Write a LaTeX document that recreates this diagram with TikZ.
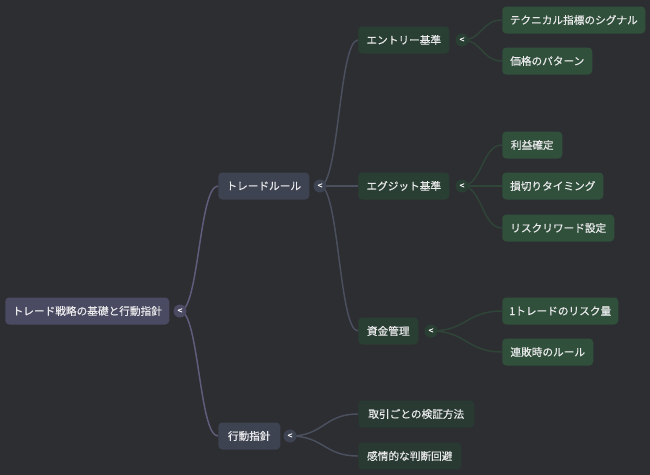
\documentclass[tikz,border=0pt]{standalone}
\usepackage{fontspec}
\setmainfont{Noto Sans CJK JP}[FakeBold=0.35]
\usetikzlibrary{calc}
\pgfdeclarelayer{bg}
\pgfsetlayers{bg,main}
\definecolor{bgc}{HTML}{2D2E32}
\definecolor{rootc}{HTML}{4A4A62}
\definecolor{lvonec}{HTML}{3E4351}
\definecolor{lvtwoc}{HTML}{2A3F33}
\definecolor{leafc}{HTML}{31503C}
\definecolor{aleafc}{HTML}{283A31}
\definecolor{txtc}{HTML}{EAEAEC}
\definecolor{erootc}{HTML}{5E5E7C}
\definecolor{egrayc}{HTML}{4B505F}
\definecolor{egreenc}{HTML}{2F4538}
\tikzset{
  box/.style={rectangle, rounded corners=3pt, inner sep=0pt, minimum height=27*0.75pt,
    anchor=west, text=txtc, font=\fontsize{8pt}{9pt}\selectfont},
  bw/.style={minimum width=#1*0.75pt},
  rootbox/.style={box, fill=rootc},
  onebox/.style={box, fill=lvonec},
  twobox/.style={box, fill=lvtwoc},
  leafbox/.style={box, fill=leafc},
  aleafbox/.style={box, fill=aleafc},
  tog/.style={circle, inner sep=0pt, minimum size=13*0.75pt, fill=#1, text=white,
    font=\fontsize{6.5pt}{6.5pt}\selectfont},
  curve/.style={to path={let \p1=(\tikztostart), \p2=(\tikztotarget) in
    .. controls ({(\x1+\x2)/2},\y1) and ({(\x1+\x2)/2},\y2) .. (\tikztotarget)}},
  edge/.style={draw=#1, line width=1.1pt, curve},
}
\begin{document}
\begin{tikzpicture}[x=0.75pt,y=-0.75pt]
\useasboundingbox (0,0) rectangle (650,475);
% nodes
\node[rootbox, bw=164] (root) at (5,311) {トレード戦略の基礎と行動指針};
\node[onebox, bw=91] (trade) at (218,186) {トレードルール};
\node[onebox, bw=62] (action) at (218,436) {行動指針};
\node[twobox, bw=91] (entry) at (358,40) {エントリー基準};
\node[twobox, bw=91] (exit) at (358,186) {エグジット基準};
\node[twobox, bw=60] (money) at (358,331) {資金管理};
\node[leafbox, bw=143] (l1) at (502,20) {テクニカル指標のシグナル};
\node[leafbox, bw=90] (l2) at (502,61) {価格のパターン};
\node[leafbox, bw=60] (l3) at (502,145) {利益確定};
\node[leafbox, bw=101] (l4) at (502,186) {損切りタイミング};
\node[leafbox, bw=112] (l5) at (502,228) {リスクリワード設定};
\node[leafbox, bw=116] (l6) at (502,311) {1トレードのリスク量};
\node[leafbox, bw=91] (l7) at (502,352) {連敗時のルール};
\node[aleafbox, bw=116] (a1) at (358,414) {取引ごとの検証方法};
\node[aleafbox, bw=103] (a2) at (358,456) {感情的な判断回避};
% toggles
\node[tog=rootc] (t0) at (180,311) {<};
\node[tog=lvonec] (t1) at (320,186) {<};
\node[tog=lvonec] (t2) at (290,436) {<};
\node[tog=lvtwoc] (te) at (462,40) {<};
\node[tog=lvtwoc] (tx) at (462,186) {<};
\node[tog=lvtwoc] (tm) at (431,331) {<};
% connectors
\begin{pgfonlayer}{bg}
\fill[bgc] (0,0) rectangle (650,475);
\draw[edge=erootc] (t0.center) to (trade.west);
\draw[edge=erootc] (t0.center) to (action.west);
\draw[edge=egrayc] (t1.center) to (entry.west);
\draw[edge=egrayc] (t1.center) to (exit.west);
\draw[edge=egrayc] (t1.center) to (money.west);
\draw[edge=egrayc] (t2.center) to (a1.west);
\draw[edge=egrayc] (t2.center) to (a2.west);
\draw[edge=egreenc] (te.center) to (l1.west);
\draw[edge=egreenc] (te.center) to (l2.west);
\draw[edge=egreenc] (tx.center) to (l3.west);
\draw[edge=egreenc] (tx.center) to (l4.west);
\draw[edge=egreenc] (tx.center) to (l5.west);
\draw[edge=egreenc] (tm.center) to (l6.west);
\draw[edge=egreenc] (tm.center) to (l7.west);
\end{pgfonlayer}
\end{tikzpicture}
\end{document}
